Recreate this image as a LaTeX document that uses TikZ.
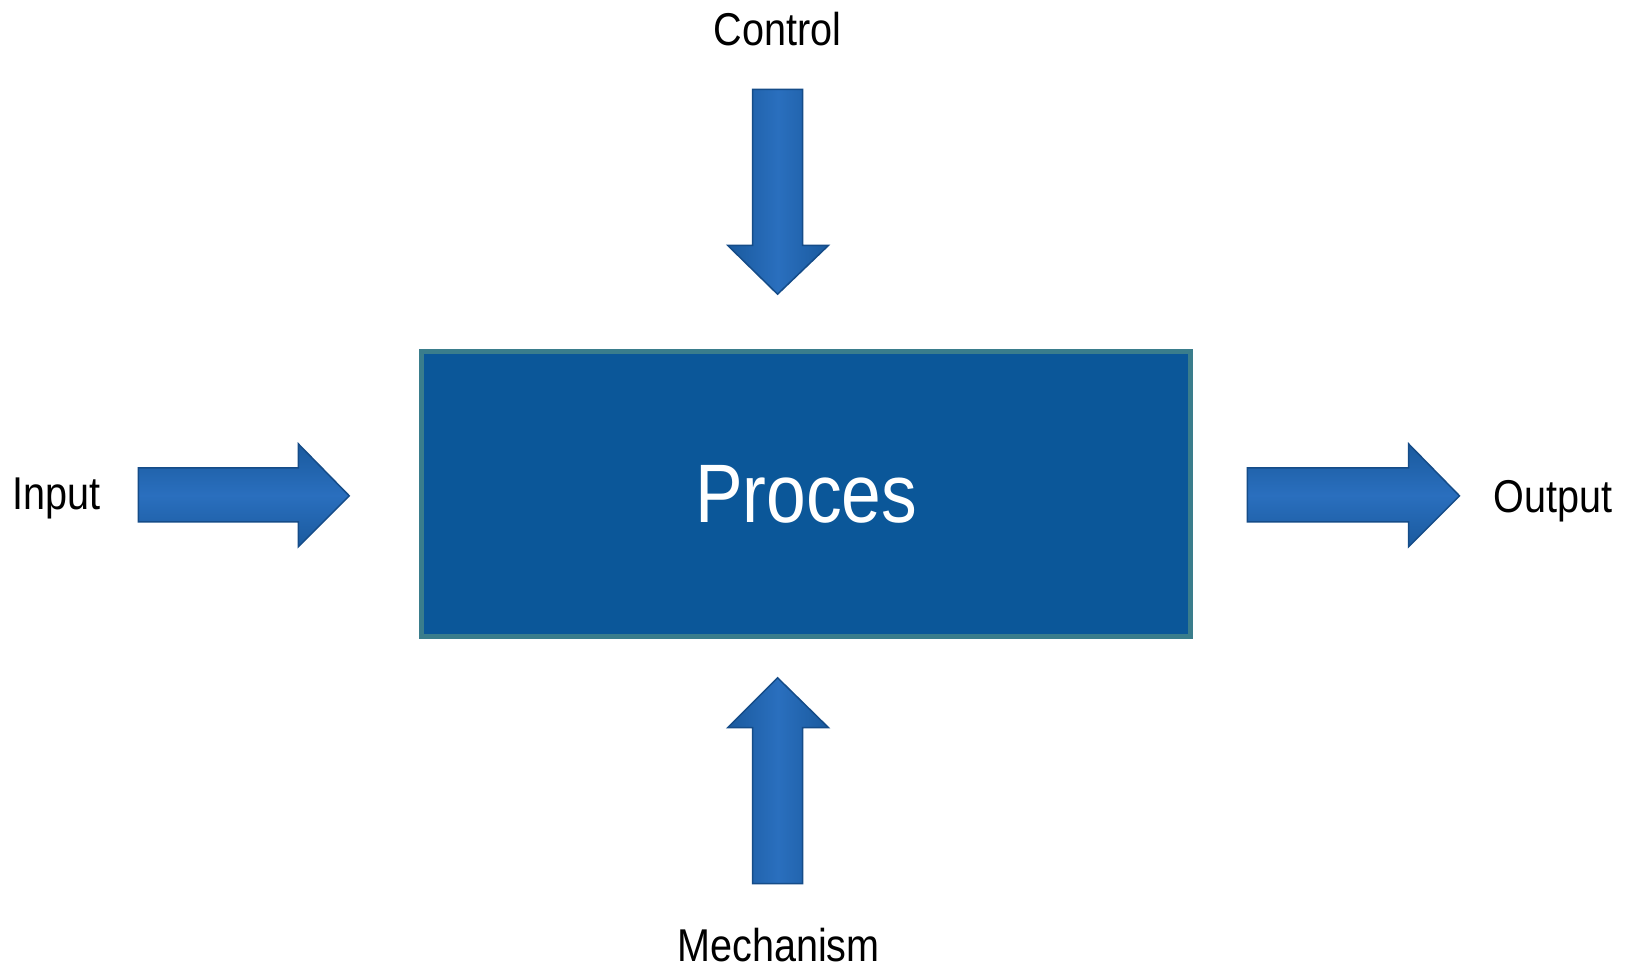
\documentclass[tikz,border=0pt]{standalone}
\usepackage{fontspec}
\setmainfont{Liberation Sans}
\newfontfamily\narrowfont[FakeStretch=0.86]{Liberation Sans}
\begin{document}
\begin{tikzpicture}[x=1.0395pt,y=-1.0395pt,
  lbl/.style={font=\narrowfont\fontsize{46}{52}\selectfont, text=black, inner sep=0pt},
  fatarrow/.style={draw=arrowedge, line width=1.5pt, line join=miter, left color=arrowdark, right color=arrowdark, middle color=arrowlight},
  fatarrowv/.style={draw=arrowedge, line width=1.5pt, line join=miter, top color=arrowdark, bottom color=arrowdark, middle color=arrowlight}]
\definecolor{boxfill}{HTML}{0B5799}
\definecolor{boxedge}{HTML}{3A7D8C}
\definecolor{arrowdark}{HTML}{1A5A9E}
\definecolor{arrowlight}{HTML}{2A6FBE}
\definecolor{arrowedge}{HTML}{154C88}
\useasboundingbox (0,0) rectangle (1568,932.2);
\fill[white] (0,0) rectangle (1568,932.2);
% process box
\node[draw=boxedge, line width=5pt, fill=boxfill, minimum width=769pt, minimum height=285pt, inner sep=0pt,
  text=white, font=\narrowfont\fontsize{83}{92}\selectfont] (proc) at (775.5,475.5) {Proces};
% control arrow (down)
\path[fatarrow] (724,86) -- (772,86) -- (772,236) -- (797,236) -- (748,283) -- (700,236) -- (724,236) -- cycle;
\coordinate (ctip) at (748,283);
% mechanism arrow (up)
\path[fatarrow] (724,850) -- (772,850) -- (772,700) -- (797,700) -- (748,652) -- (700,700) -- (724,700) -- cycle;
\coordinate (mtip) at (748,652);
% input arrow
\path[fatarrowv] (133,450) -- (287,450) -- (287,427) -- (336,477) -- (287,526) -- (287,502) -- (133,502) -- cycle;
\coordinate (itip) at (336,477);
% output arrow
\path[fatarrowv] (1200,450) -- (1355,450) -- (1355,427) -- (1404,477) -- (1355,526) -- (1355,502) -- (1200,502) -- cycle;
\coordinate (otip) at (1404,477);
% labels
\node[lbl] (control) at (748,28) {Control};
\node[lbl] (input) at (54,479) {Input};
\node[lbl] (output) at (1494,482) {Output};
\node[lbl] (mech) at (749,909) {Mechanism};
\end{tikzpicture}
\end{document}
